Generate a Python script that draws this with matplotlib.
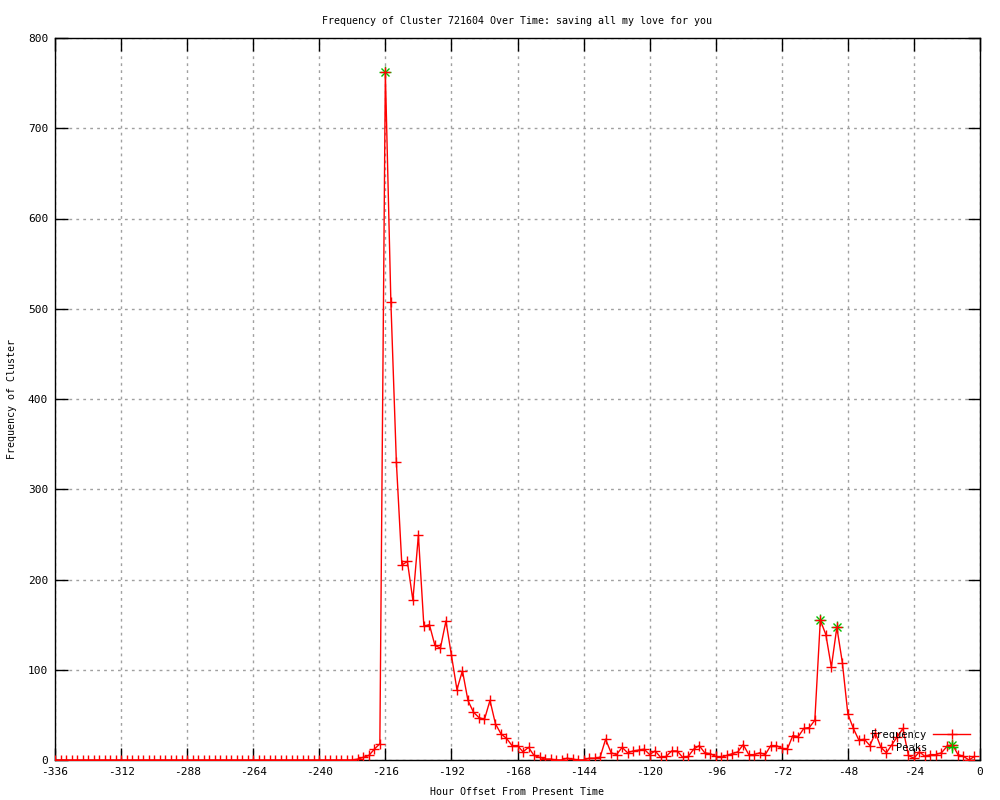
import matplotlib
matplotlib.use("Agg")
import matplotlib.pyplot as plt
import numpy as np

# ---- data ----
hours = list(range(-336, 0, 2))
freq = [0] * 55 + [
    1, 3, 5, 12, 18, 762, 508, 330, 216, 220, 177, 249, 148, 150, 127, 124,
    154, 116, 78, 99, 66, 53, 47, 45, 66, 40, 29, 24, 16, 16, 9, 14, 5, 3,
    1, 1, 0, 0, 2, 1, 0, 0, 2, 2, 3, 23, 8, 6, 14, 8, 10, 11, 12, 6, 10, 3,
    4, 10, 10, 3, 4, 12, 16, 8, 7, 4, 3, 5, 7, 9, 17, 6, 6, 8, 6, 16, 16, 13,
    12, 27, 26, 35, 36, 44, 155, 139, 103, 147, 108, 51, 35, 22, 23, 16, 30,
    14, 8, 17, 26, 35, 5, 2, 9, 4, 6, 6, 8, 15, 17, 6, 4, 0, 4]
peak_hours = [-216, -58, -52, -10]
peak_vals = [762, 155, 147, 17]

xticks = list(range(-336, 1, 24))
yticks = list(range(0, 801, 100))

title = "Frequency of Cluster 721604 Over Time: saving all my love for you"
xlabel = "Hour Offset From Present Time"
ylabel = "Frequency of Cluster"

# ---- plot ----
plt.rcParams['font.family'] = ['DejaVu Sans Mono']
fig = plt.figure(figsize=(10, 8), dpi=100)
ax = fig.add_axes([0.055, 0.05, 0.925, 0.9025])

ax.plot(peak_hours, peak_vals, linestyle='none', marker='x', color='#00c000',
        markersize=6, markeredgewidth=1, zorder=3)
pk, = ax.plot(peak_hours, peak_vals, linestyle='none', marker='+', color='#00c000',
              markersize=8, markeredgewidth=1, zorder=3, label='Peaks')
fr, = ax.plot(hours, freq, color='red', linewidth=1.0, marker='+', markersize=7,
              markeredgewidth=1.0, zorder=4, label='Frequency')

ax.set_xlim(-336, 0)
ax.set_ylim(0, 800)
ax.set_xticks(xticks)
ax.set_yticks(yticks)
ax.set_xticklabels([str(t) for t in xticks])
ax.set_yticklabels([str(t) for t in yticks])
ax.tick_params(direction='in', length=9, width=1, top=True, right=True,
               labelsize=8, pad=5, colors='black')
ax.grid(True, color='#a0a0a0', linestyle=(0, (2, 3)), linewidth=1)
ax.set_axisbelow(True)
for s in ax.spines.values():
    s.set_linewidth(1)

ax.set_title(title, fontsize=7.2, pad=10)
ax.set_xlabel(xlabel, fontsize=7.2, labelpad=7)
ax.set_ylabel(ylabel, fontsize=7.2, labelpad=8)

leg = ax.legend(handles=[fr, pk], loc='lower right', bbox_to_anchor=(0.997, 0.0),
                frameon=False, markerfirst=False, numpoints=1, fontsize=7.5,
                handlelength=3.5, handletextpad=0.6, labelspacing=0.3,
                borderaxespad=0.3)

fig.savefig("out.png", dpi=100)
